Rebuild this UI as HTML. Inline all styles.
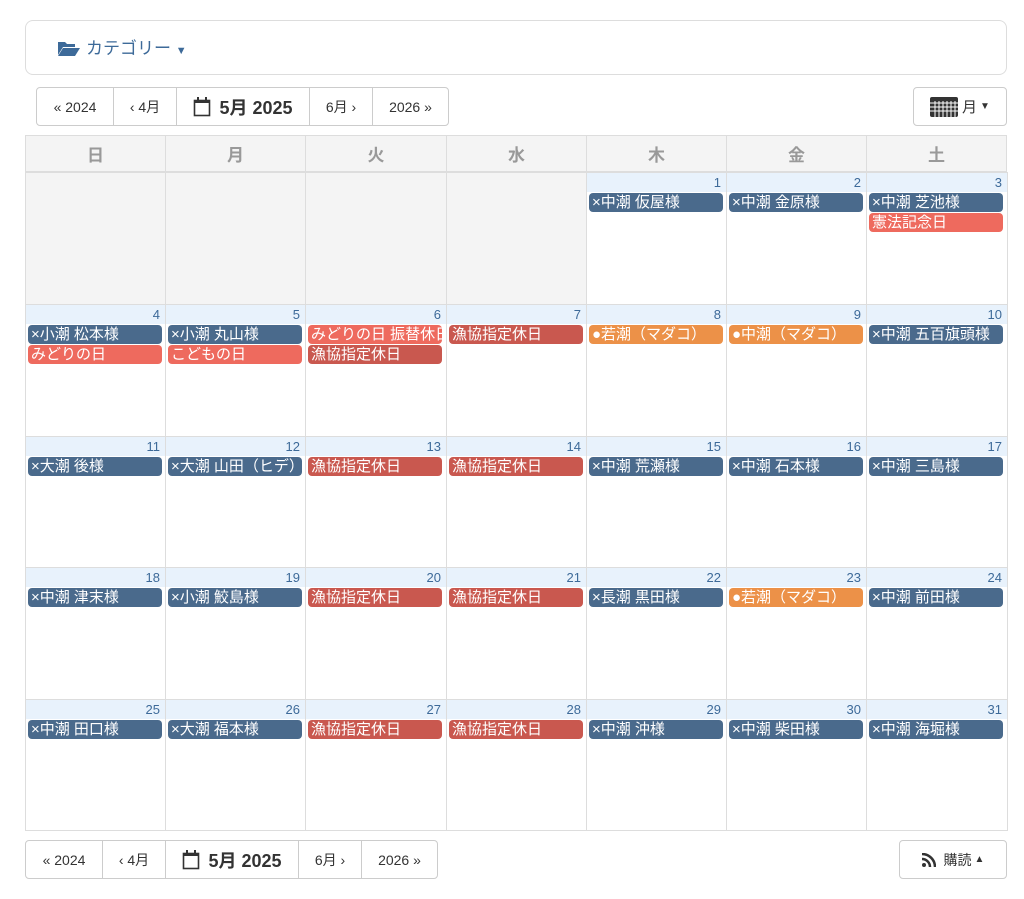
<!DOCTYPE html>
<html><head><meta charset="utf-8"><style>
body{margin:0;width:1024px;height:899px;background:#fff;font-family:"Liberation Sans","Noto Sans CJK JP",sans-serif;position:relative;overflow:hidden}
.a{position:absolute;box-sizing:border-box}
.cat{left:25px;top:20px;width:982px;height:55px;border:1px solid #ddd;border-radius:8px}
.cat .t{position:absolute;left:32px;top:13px;color:#3d6a99;font-size:17px}
.btn{position:absolute;box-sizing:border-box;border:1px solid #ccc;height:39px;display:flex;align-items:center;justify-content:center;font-size:14px;color:#333;background:#fff}
.hd{top:135px;height:37px;background:#f4f4f4;border:1px solid #ddd;color:#999;font-weight:bold;font-size:17px;display:flex;align-items:center;justify-content:center}
.cell{border:1px solid #ddd;background:#fff}
.cell.g{background:#f4f4f4}
.num{position:absolute;left:0;right:0;top:0;height:19px;background:#e8f2fc;text-align:right;padding-right:5px;color:#3d6a99;font-size:13px;line-height:19px}
.ev{position:absolute;left:2px;width:134px;height:19px;border-radius:4px;color:#fff;font-size:15px;line-height:19px;padding-left:3px;white-space:nowrap;overflow:hidden;box-sizing:border-box}
.n{background:#4a6a8c}.r{background:#ee6a5e}.d{background:#c9584f}.o{background:#ec9148}
</style></head><body>
<div class="a cat"><span class="t"><svg width="22" height="16" viewBox="0 0 22 16" style="vertical-align:-2px;margin-right:6px"><path d="M0 2h7l2 2h8v3H5L0 15z M5 8h17l-5 8H0z" fill="#3d6a99"/></svg>カテゴリー <span style="font-size:11px">▼</span></span></div>

<div class="btn" style="left:36px;top:87px;width:78px;border-radius:4px 0 0 4px">« 2024</div>
<div class="btn" style="left:113px;top:87px;width:64px">‹ 4月</div>
<div class="btn" style="left:176px;top:87px;width:134px;font-weight:bold;font-size:18px">
<svg width="18" height="20" viewBox="0 0 18 20" style="margin-right:8px"><rect x="1.5" y="3.5" width="15" height="15" fill="none" stroke="#333" stroke-width="1.6"/><rect x="1" y="3" width="16" height="3" fill="#333"/><rect x="4" y="0" width="2" height="5" fill="#333"/><rect x="12" y="0" width="2" height="5" fill="#333"/></svg>5月 2025</div>
<div class="btn" style="left:309px;top:87px;width:64px">6月 ›</div>
<div class="btn" style="left:372px;top:87px;width:77px;border-radius:0 4px 4px 0">2026 »</div>
<div class="btn" style="left:913px;top:87px;width:94px;border-radius:4px;font-size:15px">
<svg width="28" height="20" viewBox="0 0 28 20" style="margin-right:4px"><rect width="28" height="20" rx="2" fill="#333"/><g stroke="#fff" stroke-width="1"><path d="M0 6h28M0 10h28M0 14h28M5 4v16M9 4v16M13 4v16M17 4v16M21 4v16M25 4v16"/></g></svg>月 <span style="font-size:10px;margin-left:3px">▼</span></div>

<div class="a hd" style="left:25px;width:141px">日</div>
<div class="a hd" style="left:165px;width:141px">月</div>
<div class="a hd" style="left:305px;width:142px">火</div>
<div class="a hd" style="left:446px;width:141px">水</div>
<div class="a hd" style="left:586px;width:141px">木</div>
<div class="a hd" style="left:726px;width:141px">金</div>
<div class="a hd" style="left:866px;width:141px">土</div>

<div id="g"></div>
<script>
var xs=[25,165,305,446,586,726,866,1007],ys=[172,304,436,567,699,830];
var ev={1:[['n','×中潮 仮屋様']],2:[['n','×中潮 金原様']],3:[['n','×中潮 芝池様'],['r','憲法記念日']],
4:[['n','×小潮 松本様'],['r','みどりの日']],5:[['n','×小潮 丸山様'],['r','こどもの日']],6:[['r','みどりの日 振替休日'],['d','漁協指定休日']],7:[['d','漁協指定休日']],8:[['o','●若潮（マダコ）']],9:[['o','●中潮（マダコ）']],10:[['n','×中潮 五百旗頭様']],
11:[['n','×大潮 後様']],12:[['n','×大潮 山田（ヒデ）様']],13:[['d','漁協指定休日']],14:[['d','漁協指定休日']],15:[['n','×中潮 荒瀬様']],16:[['n','×中潮 石本様']],17:[['n','×中潮 三島様']],
18:[['n','×中潮 津末様']],19:[['n','×小潮 鮫島様']],20:[['d','漁協指定休日']],21:[['d','漁協指定休日']],22:[['n','×長潮 黒田様']],23:[['o','●若潮（マダコ）']],24:[['n','×中潮 前田様']],
25:[['n','×中潮 田口様']],26:[['n','×大潮 福本様']],27:[['d','漁協指定休日']],28:[['d','漁協指定休日']],29:[['n','×中潮 沖様']],30:[['n','×中潮 柴田様']],31:[['n','×中潮 海堀様']]};
var h='';
for(var r=0;r<5;r++)for(var c=0;c<7;c++){var d=r*7+c-3;var st='left:'+xs[c]+'px;top:'+ys[r]+'px;width:'+(xs[c+1]-xs[c]+1)+'px;height:'+(ys[r+1]-ys[r]+1)+'px';
if(d<1){h+='<div class="a cell g" style="'+st+'"></div>';continue;}
h+='<div class="a cell" style="'+st+'"><div class="num">'+d+'</div>';
(ev[d]||[]).forEach(function(e,i){h+='<div class="ev '+e[0]+'" style="top:'+(20+i*20)+'px">'+e[1]+'</div>';});
h+='</div>';}
document.getElementById('g').innerHTML=h;
</script>

<div class="btn" style="left:25px;top:840px;width:78px;border-radius:4px 0 0 4px">« 2024</div>
<div class="btn" style="left:102px;top:840px;width:64px">‹ 4月</div>
<div class="btn" style="left:165px;top:840px;width:134px;font-weight:bold;font-size:18px">
<svg width="18" height="20" viewBox="0 0 18 20" style="margin-right:8px"><rect x="1.5" y="3.5" width="15" height="15" fill="none" stroke="#333" stroke-width="1.6"/><rect x="1" y="3" width="16" height="3" fill="#333"/><rect x="4" y="0" width="2" height="5" fill="#333"/><rect x="12" y="0" width="2" height="5" fill="#333"/></svg>5月 2025</div>
<div class="btn" style="left:298px;top:840px;width:64px">6月 ›</div>
<div class="btn" style="left:361px;top:840px;width:77px;border-radius:0 4px 4px 0">2026 »</div>
<div class="btn" style="left:899px;top:840px;width:108px;border-radius:4px">
<svg width="14" height="14" viewBox="0 0 14 14" style="margin-right:8px"><circle cx="2" cy="12" r="2" fill="#333"/><path d="M0 6a8 8 0 0 1 8 8M0 1a13 13 0 0 1 13 13" stroke="#333" stroke-width="2.5" fill="none"/></svg>購読 <span style="font-size:10px;margin-left:3px">▲</span></div>
</body></html>
